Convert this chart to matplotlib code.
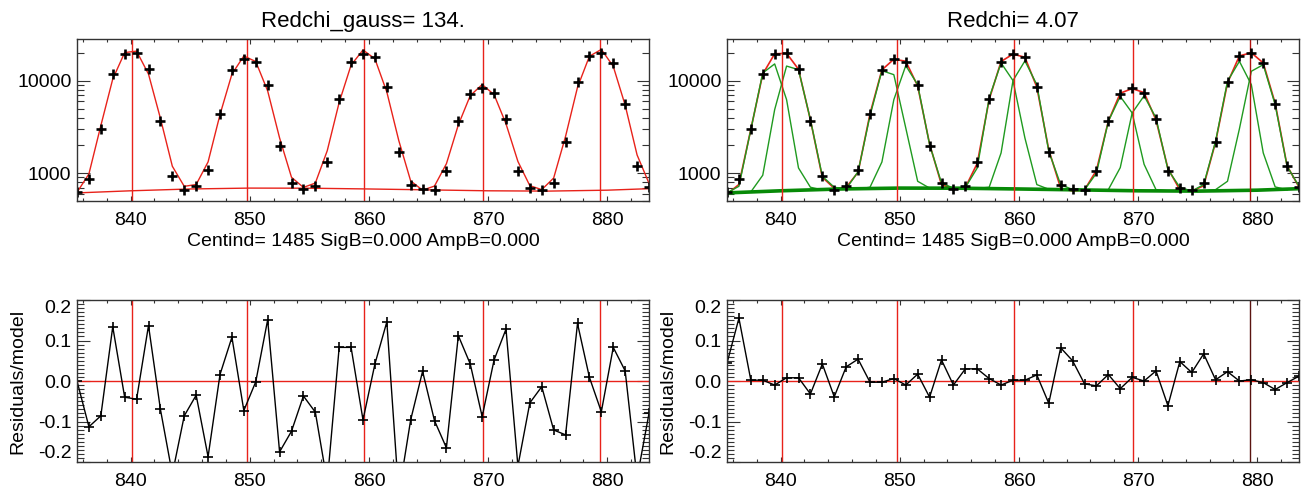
import matplotlib

matplotlib.use("Agg")
import matplotlib.pyplot as plt
from matplotlib.ticker import FixedLocator, FuncFormatter, MultipleLocator, LogLocator, NullFormatter

plt.rcParams["font.family"] = ["Liberation Sans", "DejaVu Sans"]
plt.rcParams["axes.unicode_minus"] = False

# pixel positions (half-integer channels) and measured counts
pix = [835.5 + k for k in range(49)]
counts = [
    620, 872, 2997, 11900, 19500, 20100, 13500, 3660, 942, 659,
    728, 1079, 4390, 13150, 17300, 16200, 8980, 1990, 791, 676,
    722, 1316, 6340, 16100, 19600, 18100, 8690, 1700, 746, 671,
    655, 1059, 3720, 7230, 8340, 7480, 3870, 1059, 693, 655,
    780, 2180, 9750, 18700, 20300, 15600, 5600, 1199, 716,
]

# single gaussian fit (left)
model_gauss = [
    620, 983, 3279, 10494, 20312, 21047, 11873, 3935, 1190, 721,
    754, 1327, 4321, 11868, 18662, 16232, 7802, 2412, 903, 702,
    782, 1755, 5854, 14866, 21681, 17370, 7583, 2267, 825, 655,
    726, 1268, 3345, 6939, 9145, 7110, 3431, 1341, 733, 664,
    887, 2514, 8538, 18533, 21970, 14404, 5463, 1578, 778,
]
resid_gauss = [
    0.0, -0.113, -0.086, 0.134, -0.040, -0.045, 0.137, -0.070, -0.23, -0.086,
    -0.035, -0.187, 0.016, 0.108, -0.073, -0.002, 0.151, -0.175, -0.124, -0.037,
    -0.077, -0.25, 0.083, 0.083, -0.096, 0.042, 0.146, -0.28, -0.096, 0.024,
    -0.098, -0.165, 0.112, 0.042, -0.088, 0.052, 0.128, -0.21, -0.054, -0.014,
    -0.121, -0.133, 0.142, 0.009, -0.076, 0.083, 0.025, -0.24, -0.08,
]

# double gaussian fit (right)
model_double = [
    594, 755, 2991, 11876, 19697, 19940, 13393, 3781, 904, 686,
    703, 1024, 4403, 13190, 17197, 16364, 8830, 2073, 752, 683,
    701, 1278, 6302, 16263, 19561, 18064, 8562, 1799, 689, 639,
    660, 1072, 3661, 7370, 8266, 7480, 3776, 1128, 661, 642,
    731, 2173, 9531, 18700, 20239, 15663, 5720, 1204, 708,
]
resid_double = [
    0.044, 0.155, 0.002, 0.002, -0.010, 0.008, 0.008, -0.032, 0.042, -0.039,
    0.035, 0.054, -0.003, -0.003, 0.006, -0.010, 0.017, -0.040, 0.052, -0.010,
    0.030, 0.030, 0.006, -0.010, 0.002, 0.002, 0.015, -0.055, 0.082, 0.050,
    -0.007, -0.012, 0.016, -0.019, 0.009, 0.0, 0.025, -0.061, 0.048, 0.021,
    0.067, 0.003, 0.023, 0.0, 0.003, -0.004, -0.021, -0.004, 0.012,
]

# background level
bg_x = [835.5, 840, 845, 850, 855, 860, 865, 870, 875, 880, 883.5]
bg_y = [612, 645, 675, 690, 688, 675, 660, 645, 640, 655, 680]

# individual gaussian components (each sits on the background)
comp_x = [
    [835.5, 836.5, 837.5, 838.5, 839.5, 840.5, 841.5, 842.5, 843.5],
    [836.5, 837.5, 838.5, 839.5, 840.5, 841.5, 842.5, 843.5, 844.5, 845.5],
    [845.5, 846.5, 847.5, 848.5, 849.5, 850.5, 851.5, 852.5],
    [846.5, 847.5, 848.5, 849.5, 850.5, 851.5, 852.5, 853.5, 854.5],
    [854.5, 855.5, 856.5, 857.5, 858.5, 859.5, 860.5, 861.5, 862.5],
    [856.5, 857.5, 858.5, 859.5, 860.5, 861.5, 862.5, 863.5, 864.5],
    [865.5, 866.5, 867.5, 868.5, 869.5, 870.5, 871.5, 872.5],
    [866.5, 867.5, 868.5, 869.5, 870.5, 871.5, 872.5, 873.5, 874.5],
    [874.5, 875.5, 876.5, 877.5, 878.5, 879.5, 880.5, 881.5, 882.5],
    [875.5, 876.5, 877.5, 878.5, 879.5, 880.5, 881.5, 882.5, 883.5],
]
comp_y = [
    [612, 722, 2972, 12210, 15300, 6270, 1140, 705, 660],
    [620, 627, 951, 4890, 14500, 13250, 3813, 927, 705, 675],
    [675, 1040, 4200, 12930, 11700, 3100, 818, 690],
    [675, 705, 1324, 6270, 14650, 9120, 2040, 785, 689],
    [689, 700, 1140, 6550, 15670, 10100, 2410, 753, 670],
    [685, 705, 1660, 10100, 16500, 9120, 1730, 753, 665],
    [660, 1000, 3656, 6800, 4500, 1250, 664, 645],
    [655, 664, 1150, 4500, 6900, 3975, 1095, 705, 640],
    [640, 753, 2223, 9930, 16330, 9120, 1660, 711, 660],
    [640, 664, 818, 3030, 12740, 15020, 5530, 1191, 722],
]

# fitted line centres
centres = [840.1, 849.8, 859.6, 869.6, 879.4]
resid_ticks = [-0.2, -0.1, 0.0, 0.1, 0.2]

RED = "#e8221a"
GREEN = "#1f9a1f"
XLIM = (835.5, 883.5)


def style_axes(ax):
    ax.xaxis.set_major_locator(MultipleLocator(10))
    ax.xaxis.set_minor_locator(MultipleLocator(2))
    ax.tick_params(which="both", direction="in", top=True, right=True,
                   labelsize=14, width=0.8, color="#333333")
    ax.tick_params(axis="x", which="major", length=3.5, pad=8)
    ax.tick_params(axis="x", which="minor", length=2)
    ax.tick_params(axis="y", which="major", length=9, pad=4)
    ax.tick_params(axis="y", which="minor", length=5)
    for spine in ax.spines.values():
        spine.set_linewidth(1.0)
        spine.set_color("#333333")


def top_panel(ax, title):
    ax.set_yscale("log")
    style_axes(ax)
    ax.yaxis.set_major_locator(FixedLocator([1000, 10000]))
    ax.yaxis.set_minor_locator(LogLocator(base=10, subs=range(2, 10), numticks=20))
    ax.yaxis.set_major_formatter(FuncFormatter(lambda v, _: f"{v:.0f}"))
    ax.yaxis.set_minor_formatter(NullFormatter())
    ax.set_title(title, fontsize=16, pad=9)
    ax.set_xlabel("Centind= 1485 SigB=0.000 AmpB=0.000", fontsize=14, labelpad=3)


def bottom_panel(ax, resid, last_colour):
    style_axes(ax)
    ax.axhline(0, color=RED, lw=1.0)
    for i, c in enumerate(centres):
        ax.axvline(c, color=last_colour if i == len(centres) - 1 else RED, lw=1.0)
    ax.plot(pix, resid, color="black", lw=1.0, marker="+", ms=6.5, mew=1.2)
    ax.set_ylabel("Residuals/model", fontsize=14, labelpad=8)
    ax.yaxis.set_major_locator(FixedLocator(resid_ticks))
    ax.yaxis.set_minor_locator(MultipleLocator(0.01))
    ax.yaxis.set_major_formatter(FuncFormatter(lambda v, _: f"{v:.1f}"))
    ax.set_xlim(*XLIM)
    ax.set_ylim(-0.2, 0.2)
    # end labels sit inside the axis range, as in the original
    ticks = ax.yaxis.get_major_ticks()
    ticks[0].label1.set_va("bottom")
    ticks[-1].label1.set_va("top")


fig = plt.figure(figsize=(13.01, 4.90), dpi=100)
W, H = 1301, 490
ax_tl = fig.add_axes([77 / W, 1 - 201 / H, 572 / W, 162 / H])
ax_tr = fig.add_axes([727 / W, 1 - 201 / H, 572 / W, 162 / H])
ax_bl = fig.add_axes([77 / W, 1 - 462 / H, 572 / W, 162 / H])
ax_br = fig.add_axes([727 / W, 1 - 462 / H, 572 / W, 162 / H])

# top left: single gaussians
top_panel(ax_tl, "Redchi_gauss= 134.")
ax_tl.plot(bg_x, bg_y, color=RED, lw=1.0)
ax_tl.plot(pix, model_gauss, color=RED, lw=1.0)
for c in centres:
    ax_tl.axvline(c, color=RED, lw=1.0)
ax_tl.plot(pix, counts, ls="none", marker="+", color="black", ms=7, mew=1.9)

# top right: double gaussians
top_panel(ax_tr, "Redchi= 4.07")
ax_tr.plot(pix, model_double, color=RED, lw=1.2)
for cx, cy in zip(comp_x, comp_y):
    ax_tr.plot(cx, cy, color=GREEN, lw=1.0)
ax_tr.plot(bg_x, bg_y, color="#078a07", lw=2.6)
for i, c in enumerate(centres):
    ax_tr.axvline(c, color="#b0100c" if i == 4 else RED, lw=1.0)
ax_tr.plot(pix, counts, ls="none", marker="+", color="black", ms=7, mew=1.9)

for ax in (ax_tl, ax_tr):
    ax.set_xlim(*XLIM)
    ax.set_ylim(500, 28500)

bottom_panel(ax_bl, resid_gauss, RED)
bottom_panel(ax_br, resid_double, "#5a1410")

fig.savefig("out.png", dpi=100)
